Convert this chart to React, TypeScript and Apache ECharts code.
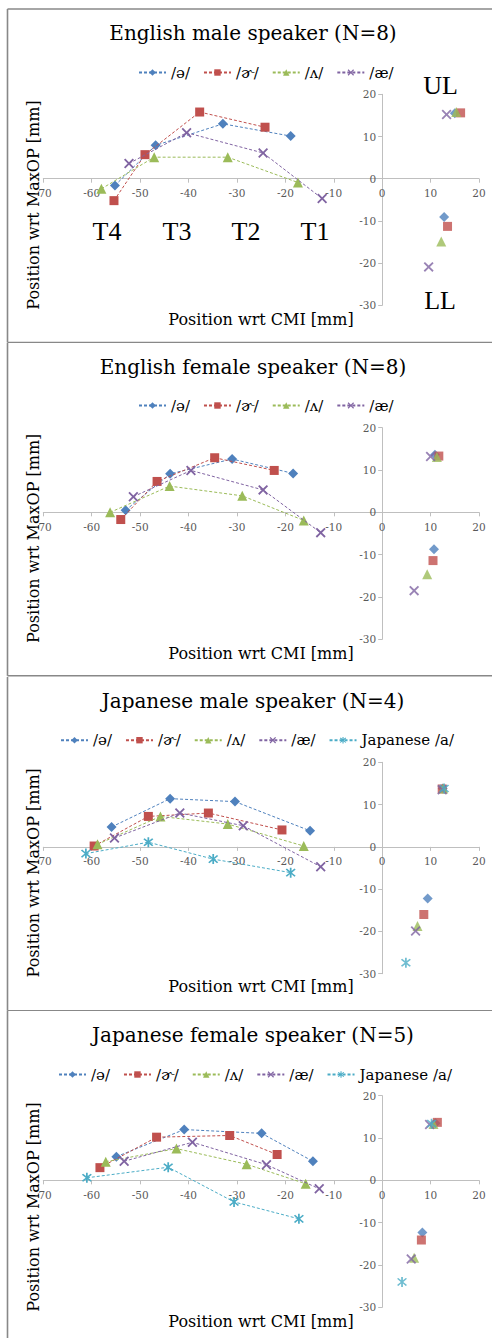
import React, { useEffect, useRef } from "react";
import * as echarts from "echarts";

// ---------- data ----------
const vowelNames = ["/ə/", "/ɚ/", "/ʌ/", "/æ/", "Japanese /a/"];
const panelTitles = [
  "English male speaker (N=8)",
  "English female speaker (N=8)",
  "Japanese male speaker (N=4)",
  "Japanese female speaker (N=5)",
];
const xAxisName = "Position wrt CMI [mm]";
const yAxisName = "Position wrt MaxOP [mm]";
const tongueLabels = ["T4", "T3", "T2", "T1"];
const lipLabels = ["UL", "LL"];

// axis ranges
const xMin = -70, xMax = 20, xStep = 10;
const yMin = -30, yMax = 20, yStep = 10;

// tongue points per vowel: [T4, T3, T2, T1]; lips per vowel: [UL, LL]
// English male
const emTongueX = [
  [-55.2, -46.8, -32.9, -18.9],
  [-55.4, -49.0, -37.7, -24.2],
  [-58.0, -47.1, -31.9, -17.4],
  [-52.3, -40.4, -24.6, -12.4],
];
const emTongueY = [
  [-1.6, 7.9, 13.0, 10.1],
  [-5.2, 5.7, 15.8, 12.2],
  [-2.4, 5.1, 5.1, -0.9],
  [3.6, 10.9, 6.1, -4.7],
];
const emLipX = [[15.0, 12.8], [16.2, 13.5], [15.3, 12.2], [13.3, 9.6]];
const emLipY = [[15.5, -9.1], [15.6, -11.3], [15.8, -14.9], [15.2, -20.9]];

// English female
const efTongueX = [
  [-53.0, -43.8, -31.0, -18.4],
  [-54.0, -46.5, -34.6, -22.3],
  [-56.2, -43.9, -28.9, -16.2],
  [-51.4, -39.5, -24.6, -12.7],
];
const efTongueY = [
  [0.5, 9.1, 12.6, 9.2],
  [-1.7, 7.3, 12.9, 9.9],
  [0.0, 6.2, 3.9, -1.9],
  [3.7, 9.9, 5.3, -4.8],
];
const efLipX = [[10.9, 10.7], [11.7, 10.5], [11.3, 9.3], [10.0, 6.6]];
const efLipY = [[13.6, -8.7], [13.3, -11.4], [13.1, -14.6], [13.2, -18.5]];

// Japanese male
const jmTongueX = [
  [-55.9, -43.8, -30.4, -14.9],
  [-59.5, -48.3, -35.9, -20.7],
  [-58.8, -45.8, -31.9, -16.2],
  [-55.3, -41.8, -28.7, -12.7],
  [-61.2, -48.3, -34.9, -18.9],
];
const jmTongueY = [
  [4.7, 11.4, 10.7, 3.8],
  [0.2, 7.2, 8.0, 4.0],
  [0.6, 7.2, 5.4, 0.2],
  [2.1, 8.0, 5.0, -4.7],
  [-1.6, 1.1, -2.9, -6.1],
];
const jmLipX = [[12.5, 9.4], [12.4, 8.6], [12.6, 7.3], [12.4, 6.9], [12.8, 4.9]];
const jmLipY = [[13.8, -12.2], [13.7, -16.0], [13.8, -18.7], [13.5, -19.9], [13.8, -27.4]];

// Japanese female
const jfTongueX = [
  [-54.9, -40.9, -24.9, -14.3],
  [-58.3, -46.6, -31.5, -21.7],
  [-57.1, -42.5, -28.0, -15.8],
  [-53.3, -39.2, -23.9, -13.0],
  [-61.0, -44.2, -30.6, -17.2],
];
const jfTongueY = [
  [5.6, 12.0, 11.1, 4.5],
  [3.0, 10.2, 10.6, 6.1],
  [4.4, 7.5, 3.8, -0.8],
  [4.5, 9.0, 3.7, -2.0],
  [0.6, 3.1, -5.1, -9.1],
];
const jfLipX = [[11.0, 8.3], [11.4, 8.1], [10.6, 6.6], [9.8, 6.0], [10.2, 4.1]];
const jfLipY = [[13.5, -12.3], [13.7, -14.1], [13.3, -18.3], [13.2, -18.6], [13.4, -24.0]];

// ---------- styles ----------
const colors = ["#4F81BD", "#C0504D", "#9BBB59", "#8064A2", "#4BACC6"];

function makeStar(anglesDeg: number[], r: number, w: number): string {
  const c = 5;
  const a = anglesDeg.map((d) => (d * Math.PI) / 180);
  const pts: string[] = [];
  for (let i = 0; i < a.length; i++) {
    const t = a[i];
    const dx = Math.cos(t), dy = Math.sin(t);
    const px = -Math.sin(t), py = Math.cos(t);
    pts.push(`${(c + r * dx - w * px).toFixed(3)},${(c + r * dy - w * py).toFixed(3)}`);
    pts.push(`${(c + r * dx + w * px).toFixed(3)},${(c + r * dy + w * py).toFixed(3)}`);
    const tn = i + 1 < a.length ? a[i + 1] : a[0] + 2 * Math.PI;
    const half = (tn - t) / 2;
    const phi = t + half;
    const d = w / Math.sin(half);
    pts.push(`${(c + d * Math.cos(phi)).toFixed(3)},${(c + d * Math.sin(phi)).toFixed(3)}`);
  }
  return "path://M" + pts.join("L") + "Z";
}
const X_SYMBOL = makeStar([-135, -45, 45, 135], 5, 0.75);
const STAR_SYMBOL = makeStar([-135, -90, -45, 45, 90, 135], 5, 0.7);
const symbols = ["diamond", "rect", "triangle", X_SYMBOL, STAR_SYMBOL];
const symbolSizes = [10, 9, 10, 10, 10];

const serif = "DejaVu Serif";
const PLOT_LEFT = 43.3;
const PLOT_RIGHT = 479;

type Spec = {
  top: number;
  height: number;
  titleIdx: number;
  titleY: number;
  legendY: number;
  legendLeft: number;
  plotTop: number;
  plotBottom: number;
  xNameY: number;
  yNameY: number;
  border: { top: number | null; bottom: number | null };
  tx: number[][];
  ty: number[][];
  lx: number[][];
  ly: number[][];
  annotate: boolean;
};

const specs: Spec[] = [
  {
    top: 0, height: 343, titleIdx: 0, titleY: 33, legendY: 68, legendLeft: 133,
    plotTop: 94.3, plotBottom: 305.3, xNameY: 319.3, yNameY: 205,
    border: { top: 9, bottom: 342.5 },
    tx: emTongueX, ty: emTongueY, lx: emLipX, ly: emLipY, annotate: true,
  },
  {
    top: 343, height: 334, titleIdx: 1, titleY: 23.7, legendY: 58, legendLeft: 133,
    plotTop: 84.7, plotBottom: 296.3, xNameY: 310.3, yNameY: 195.3,
    border: { top: null, bottom: 332.7 },
    tx: efTongueX, ty: efTongueY, lx: efLipX, ly: efLipY, annotate: false,
  },
  {
    top: 677, height: 334, titleIdx: 2, titleY: 23.7, legendY: 58.7, legendLeft: 55,
    plotTop: 85.3, plotBottom: 296.7, xNameY: 309.7, yNameY: 195.8,
    border: { top: null, bottom: 333.7 },
    tx: jmTongueX, ty: jmTongueY, lx: jmLipX, ly: jmLipY, annotate: false,
  },
  {
    top: 1011, height: 327, titleIdx: 3, titleY: 24, legendY: 59, legendLeft: 53,
    plotTop: 84.7, plotBottom: 296.3, xNameY: 310, yNameY: 196,
    border: { top: null, bottom: null },
    tx: jfTongueX, ty: jfTongueY, lx: jfLipX, ly: jfLipY, annotate: false,
  },
];

function textEl(text: string, x: number, y: number, size: number, family: string, extra: any = {}, weight = "normal") {
  return {
    type: "text",
    x,
    y,
    silent: true,
    ...extra,
    style: {
      text,
      fontSize: size,
      fontFamily: family,
      fontWeight: weight,
      fill: "#000",
      align: "center",
      verticalAlign: "middle",
      textAlign: "center",
      textVerticalAlign: "middle",
    },
  };
}

function buildOption(s: Spec) {
  const n = s.tx.length;
  const series: any[] = [];
  for (let i = 0; i < n; i++) {
    const tongue = s.tx[i].map((x, j) => [x, s.ty[i][j]]);
    const lips = s.lx[i].map((x, j) => [x, s.ly[i][j]]);
    series.push({
      type: "line",
      name: vowelNames[i],
      data: tongue,
      symbol: symbols[i],
      symbolSize: symbolSizes[i],
      showSymbol: true,
      itemStyle: { color: colors[i] },
      lineStyle: { color: colors[i], width: 1, type: [3, 2] },
      z: 2 + i,
    });
    series.push({
      type: "scatter",
      name: vowelNames[i],
      data: lips,
      symbol: symbols[i],
      symbolSize: symbolSizes[i],
      itemStyle: { color: colors[i] },
      z: 2 + i,
    });
  }

  const borderStyle = { stroke: "#888888", lineWidth: 1.6 };
  const graphics: any[] = [];
  const bTop = s.border.top ?? 0;
  const bBottom = s.border.bottom ?? s.height;
  graphics.push({ type: "line", silent: true, shape: { x1: 7.5, y1: bTop, x2: 7.5, y2: bBottom }, style: borderStyle });
  if (s.border.top !== null) {
    graphics.push({ type: "line", silent: true, shape: { x1: 7.5, y1: s.border.top, x2: 492, y2: s.border.top }, style: borderStyle });
  }
  if (s.border.bottom !== null) {
    graphics.push({ type: "line", silent: true, shape: { x1: 7.5, y1: s.border.bottom, x2: 492, y2: s.border.bottom }, style: borderStyle });
  }
  graphics.push(textEl(panelTitles[s.titleIdx], 253, s.titleY, 20, serif));
  graphics.push(textEl(xAxisName, 261, s.xNameY, 16, serif));
  graphics.push(textEl(yAxisName, 33, s.yNameY, 16, serif, { rotation: Math.PI / 2 }));
  if (s.annotate) {
    const tPos = [107, 177, 246, 315];
    tongueLabels.forEach((t, i) => graphics.push(textEl(t, tPos[i], 231.7, 26, "Liberation Serif")));
    graphics.push(textEl(lipLabels[0], 440.5, 85, 26, "Liberation Serif"));
    graphics.push(textEl(lipLabels[1], 440, 300, 26, "Liberation Serif"));
  }

  const plotH = s.plotBottom - s.plotTop;
  const plotW = PLOT_RIGHT - PLOT_LEFT;
  // place the axes where the other axis is zero (Excel-style crossing)
  const xOffset = -plotH * ((0 - yMin) / (yMax - yMin));
  const yOffset = -plotW * ((0 - xMin) / (xMax - xMin));

  const axisColor = "#BFBFBF";
  return {
    animation: false,
    backgroundColor: "#ffffff",
    grid: {
      left: PLOT_LEFT,
      right: 492 - PLOT_RIGHT,
      top: s.plotTop,
      height: plotH,
      containLabel: false,
    },
    legend: {
      data: vowelNames.slice(0, n),
      left: s.legendLeft,
      top: s.legendY - 8,
      itemWidth: 27,
      itemHeight: 8,
      itemGap: 13,
      textStyle: { fontFamily: serif, fontSize: 15, color: "#000" },
      selectedMode: false,
    },
    xAxis: {
      type: "value",
      min: xMin,
      max: xMax,
      interval: xStep,
      position: "bottom",
      offset: xOffset,
      axisLine: { onZero: false, lineStyle: { color: axisColor, width: 1 } },
      axisTick: { show: true, length: 4, lineStyle: { color: axisColor } },
      axisLabel: { color: "#595959", fontFamily: serif, fontSize: 10.5, margin: 9 },
      splitLine: { show: false },
    },
    yAxis: {
      type: "value",
      min: yMin,
      max: yMax,
      interval: yStep,
      position: "left",
      offset: yOffset,
      axisLine: { show: true, onZero: false, lineStyle: { color: axisColor, width: 1 } },
      axisTick: { show: true, length: 4, lineStyle: { color: axisColor } },
      axisLabel: { color: "#595959", fontFamily: serif, fontSize: 10.5, margin: 6 },
      splitLine: { show: false },
    },
    series,
    graphic: { elements: graphics },
  };
}

function Panel({ spec }: { spec: Spec }) {
  const ref = useRef<HTMLDivElement>(null);
  useEffect(() => {
    if (!ref.current) return;
    const chart = echarts.init(ref.current, null, { renderer: "svg" });
    chart.setOption(buildOption(spec) as any);
    return () => chart.dispose();
  }, [spec]);
  return (
    <div
      ref={ref}
      style={{ position: "absolute", left: 0, top: spec.top, width: 492, height: spec.height }}
    />
  );
}

export default function App() {
  return (
    <div style={{ position: "absolute", left: 0, top: 0, width: 492, height: 1338, background: "#fff", overflow: "hidden" }}>
      {specs.map((s, i) => (
        <Panel key={i} spec={s} />
      ))}
    </div>
  );
}
